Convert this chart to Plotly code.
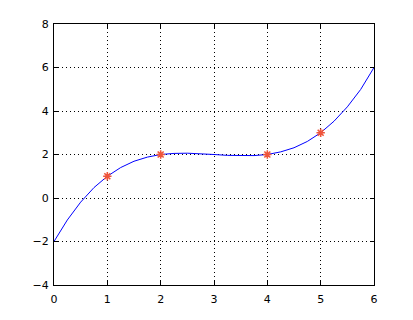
import plotly.graph_objects as go

# Curve samples
curve_x = [0, 0.25, 0.5, 0.75, 1, 1.25, 1.5, 1.75, 2, 2.25, 2.5, 2.75, 3,
           3.25, 3.5, 3.75, 4, 4.25, 4.5, 4.75, 5, 5.25, 5.5, 5.75, 6]
curve_y = [-2, -1.01, -0.19, 0.48, 1, 1.40, 1.69, 1.88, 2, 2.05, 2.06, 2.04, 2,
           1.96, 1.94, 1.95, 2, 2.12, 2.31, 2.60, 3, 3.53, 4.19, 4.99, 6]
# Marked data points
pts_x = [1, 2, 4, 5]
pts_y = [1, 2, 2, 3]
x_ticks = [0, 1, 2, 3, 4, 5, 6]
y_ticks = [-4, -2, 0, 2, 4, 6, 8]

fig = go.Figure()
fig.add_trace(go.Scatter(x=curve_x, y=curve_y, mode="lines",
                         line=dict(color="blue", width=1)))
fig.add_trace(go.Scatter(x=pts_x, y=pts_y, mode="markers",
                         marker=dict(symbol="asterisk-open", size=7,
                                     line=dict(color="red", width=1.6))))

axis_common = dict(showline=True, linecolor="black", linewidth=1, mirror="ticks",
                   ticks="inside", ticklen=4, tickcolor="black",
                   showgrid=True, gridcolor="black", griddash="1px,3px", gridwidth=1,
                   zeroline=False,
                   tickfont=dict(family="DejaVu Sans", size=11, color="black"))
fig.update_xaxes(range=[0, 6], tickvals=x_ticks, ticklabelstandoff=4, **axis_common)
fig.update_yaxes(range=[-4, 8], tickvals=y_ticks, ticklabelstandoff=2, **axis_common)
fig.update_layout(width=413, height=320, showlegend=False,
                  margin=dict(l=54, r=39, t=24, b=35),
                  paper_bgcolor="white", plot_bgcolor="white")
fig.write_html("out.html")
